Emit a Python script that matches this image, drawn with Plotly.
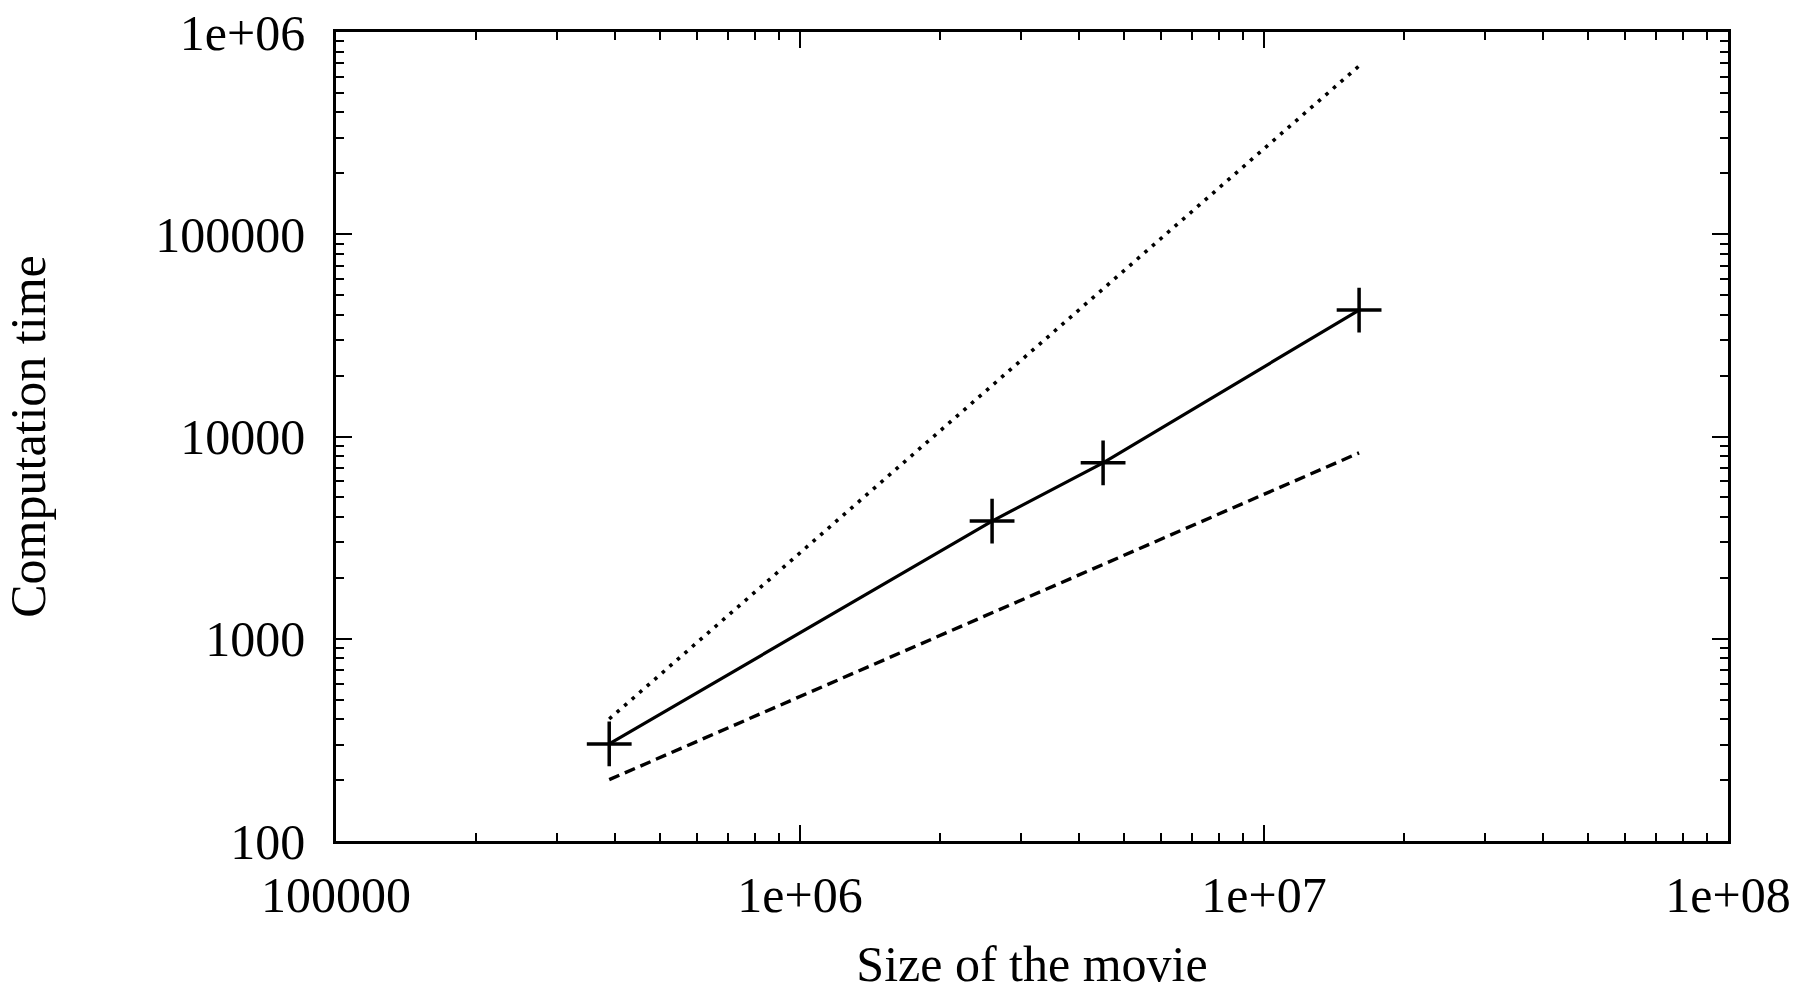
import plotly.graph_objects as go

# Measured data
movie_size = [388000, 2594000, 4500000, 16030000]
comp_time = [302, 3820, 7410, 42200]

# Reference lines (quadratic dotted, linear dashed)
ref_x = [388000, 16030000]
quad_y = [401, 680000]
lin_y = [201, 8300]

x_tickvals = [1e5, 1e6, 1e7, 1e8]
x_ticktext = ["100000", "1e+06", "1e+07", "1e+08"]
y_tickvals = [1e2, 1e3, 1e4, 1e5, 1e6]
y_ticktext = ["100", "1000", "10000", "100000", "1e+06"]

FONT = "Liberation Serif, Times New Roman, serif"
FS = 50

fig = go.Figure()
fig.add_trace(go.Scatter(x=ref_x, y=quad_y, mode="lines",
                         line=dict(color="black", width=3.6, dash="3.5px,6.5px"),
                         showlegend=False))
fig.add_trace(go.Scatter(x=ref_x, y=lin_y, mode="lines",
                         line=dict(color="black", width=3.4, dash="11px,6px"),
                         showlegend=False))
fig.add_trace(go.Scatter(x=movie_size, y=comp_time, mode="lines+markers",
                         line=dict(color="black", width=3.2),
                         marker=dict(symbol="cross-thin", size=32,
                                     line=dict(color="black", width=3.5)),
                         showlegend=False))

axis_common = dict(
    type="log", showgrid=False, zeroline=False,
    showline=True, linecolor="black", linewidth=2.5, mirror="allticks",
    ticks="inside", ticklen=16, tickwidth=2, tickcolor="black",
    tickfont=dict(family=FONT, size=FS, color="black"),
    minor=dict(ticks="inside", ticklen=8, tickwidth=2, tickcolor="black",
               dtick="D1", showgrid=False),
)

fig.update_xaxes(
    **axis_common,
    range=[5, 8],
    tickmode="array", tickvals=x_tickvals, ticktext=x_ticktext,
    ticklabelstandoff=8,
    title=dict(text="Size of the movie", font=dict(family=FONT, size=FS, color="black"),
               standoff=37),
)
fig.update_yaxes(
    **axis_common,
    range=[2, 6],
    tickmode="array", tickvals=y_tickvals, ticktext=y_ticktext,
    ticklabelstandoff=18,
    title=dict(text="Computation time", font=dict(family=FONT, size=FS, color="black"),
               standoff=96),
)

fig.update_layout(
    width=1814, height=992,
    margin=dict(l=336, r=86, t=31.5, b=151, autoexpand=False),
    paper_bgcolor="white", plot_bgcolor="white",
    font=dict(family=FONT, color="black"),
)

fig.write_html("out.html", config={"displayModeBar": False},
               post_script="document.body.style.margin='0';")
